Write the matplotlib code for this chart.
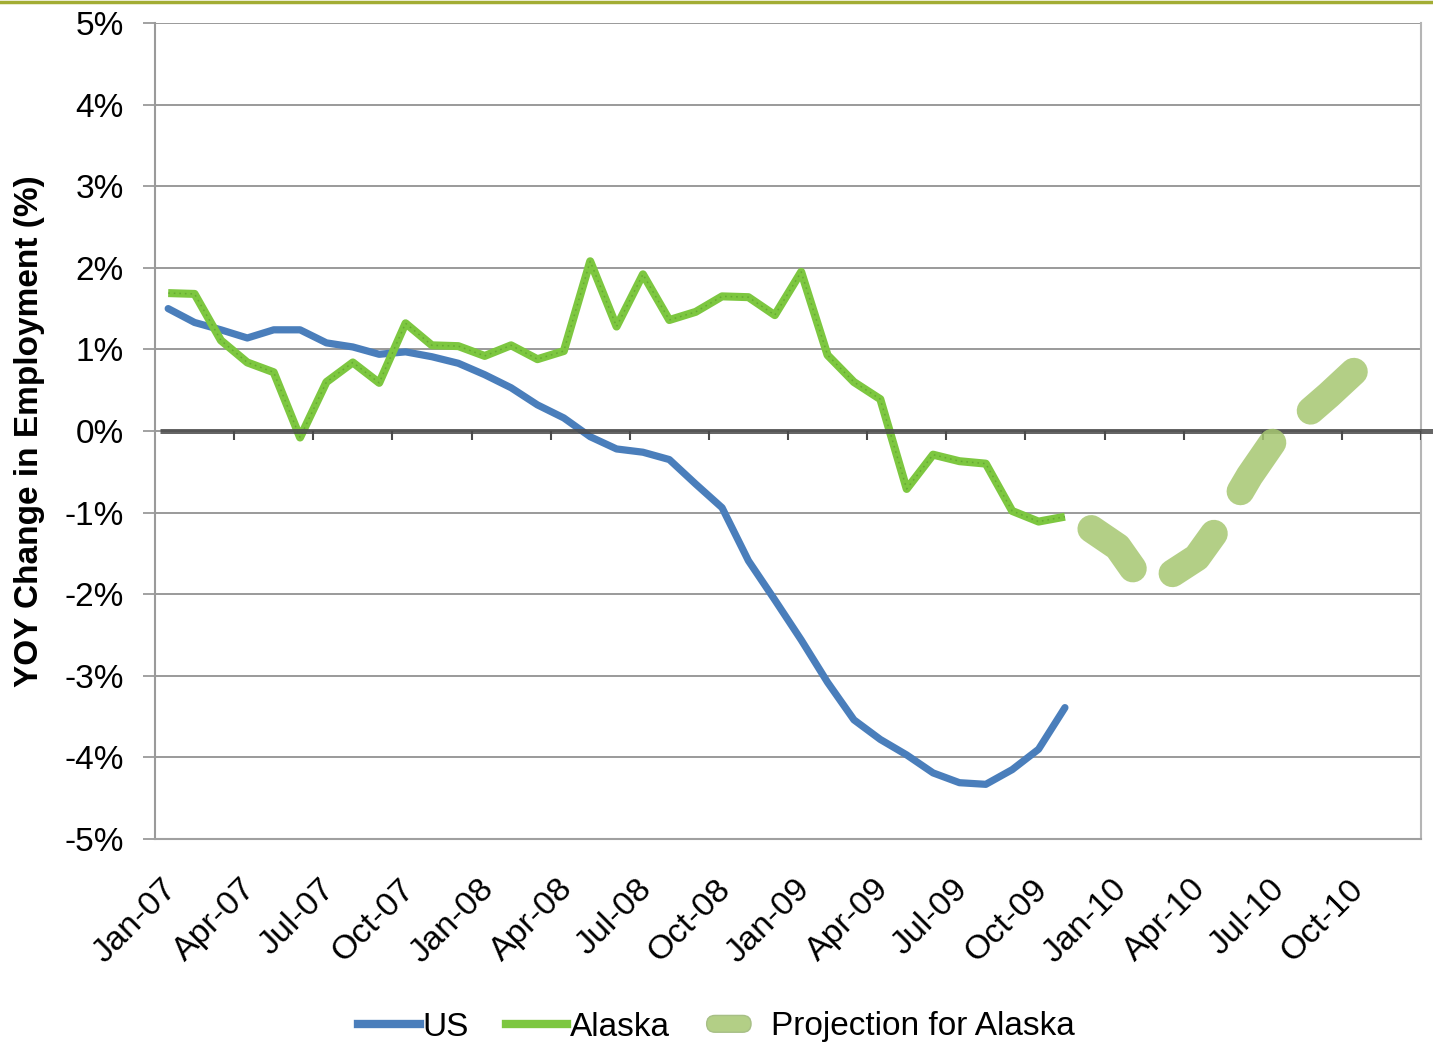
import matplotlib
matplotlib.use("Agg")
import matplotlib.pyplot as plt
from matplotlib.lines import Line2D
from matplotlib.patches import FancyBboxPatch
from matplotlib.legend_handler import HandlerBase
from matplotlib.transforms import ScaledTranslation
import numpy as np

plt.rcParams['font.family'] = ['Liberation Sans', 'DejaVu Sans']
plt.rcParams['lines.scale_dashes'] = False

# ---------------- data ----------------
month_names = ["Jan", "Feb", "Mar", "Apr", "May", "Jun",
               "Jul", "Aug", "Sep", "Oct", "Nov", "Dec"]
years = ["07", "08", "09", "10"]
months = [f"{m}-{y}" for y in years for m in month_names]   # Jan-07 .. Dec-10

us = [1.50, 1.33, 1.24, 1.14, 1.24, 1.24, 1.08, 1.03, 0.94, 0.97, 0.91, 0.83,
      0.69, 0.53, 0.32, 0.16, -0.07, -0.22, -0.26, -0.35, -0.65, -0.94, -1.59, -2.07,
      -2.56, -3.08, -3.54, -3.78, -3.97, -4.19, -4.31, -4.33, -4.15, -3.90, -3.39]

alaska = [1.69, 1.68, 1.11, 0.84, 0.72, -0.08, 0.60, 0.84, 0.59, 1.32, 1.05, 1.04,
          0.92, 1.05, 0.88, 0.98, 2.08, 1.28, 1.92, 1.36, 1.46, 1.65, 1.64, 1.42,
          1.95, 0.93, 0.60, 0.39, -0.71, -0.29, -0.37, -0.40, -0.98, -1.11, -1.05]

projection_start = 35   # Dec-09
projection = [-1.20, -1.42, -1.88, -1.76, -1.55, -1.10, -0.55, -0.08, 0.16, 0.44, 0.74]

yticks = [5, 4, 3, 2, 1, 0, -1, -2, -3, -4, -5]
label_every = 3

# ---------------- figure ----------------
W, H = 1433, 1043
fig = plt.figure(figsize=(W / 100, H / 100), dpi=100)
L, R, T, B = 155, 1421, 23, 839
ax = fig.add_axes([L / W, 1 - B / H, (R - L) / W, (B - T) / H])

x_all = np.arange(len(months))
x_us = x_all[:len(us)]
x_ak = x_all[:len(alaska)]
x_pr = x_all[projection_start:projection_start + len(projection)]

ax.set_xlim(-0.5, len(months) - 0.5)
ax.set_ylim(-5, 5)

# gridlines
for v in yticks:
    ax.axhline(v, color='#9a9a9a', lw=1.4, zorder=1)

col_us = '#4a7ebb'
col_ak = '#7dc740'
col_pr = '#a6c771'

ax.plot(x_us, us, color=col_us, lw=5.2, solid_joinstyle='round',
        solid_capstyle='round', zorder=3)
ax.plot(x_ak, alaska, color=col_ak, lw=5.8, solid_joinstyle='round',
        solid_capstyle='butt', zorder=3)
ax.plot(x_ak, alaska, color='#4f8f26', lw=1.1, ls=(0, (1.2, 2.8)),
        alpha=0.5, zorder=3.1)

# zero line (extends past the right edge) with category tick marks
ax.axhline(0, xmin=5 / (R - L), xmax=(W - L) / (R - L), color='#4a4a4a',
           lw=3.6, alpha=0.85, clip_on=False, zorder=4, solid_capstyle='butt')
bounds = np.arange(label_every - 0.5, len(months), label_every)
ax.vlines(bounds, -0.11, 0, color='#4a4a4a', lw=1.5, zorder=4)

# projection
ax.plot(x_pr, projection, color=col_pr, lw=20, alpha=0.85,
        ls=(0, (42, 36)), dash_capstyle='round', dash_joinstyle='round',
        zorder=5)

# axes styling
ax.spines['top'].set_visible(False)
ax.spines['left'].set_color('#9a9a9a')
ax.spines['left'].set_linewidth(1.5)
ax.spines['right'].set_color('#b5b5b5')
ax.spines['right'].set_linewidth(1.5)
ax.spines['bottom'].set_color('#a0a0a0')
ax.spines['bottom'].set_linewidth(1.5)

ax.set_yticks(yticks)
ax.set_yticklabels([f"{v}%" for v in yticks], fontsize=24)
ax.tick_params(axis='y', length=8.6, width=1.3, color='#9a9a9a', pad=14)

lab_idx = x_all[::label_every]
ax.set_xticks(lab_idx)
ax.set_xticklabels([months[i] for i in lab_idx], fontsize=24.5)
ax.tick_params(axis='x', length=0, pad=24)
shift = ScaledTranslation(-0.07, -0.01, fig.dpi_scale_trans)
for t in ax.get_xticklabels():
    t.set_rotation(45)
    t.set_ha('right')
    t.set_va('top')
    t.set_rotation_mode('anchor')
    t.set_transform(t.get_transform() + shift)

fig.text(30 / W, 1 - 431 / H, "YOY Change in Employment (%)", rotation=90,
         fontsize=24, fontweight='bold', ha='center', va='center')

# olive rule at top of the slide
fig.add_artist(Line2D([0, 1], [1 - 2 / H, 1 - 2 / H], color='#a3ad34', lw=2.5,
                      transform=fig.transFigure))

# legend
class RoundHandler(HandlerBase):
    def create_artists(self, legend, orig_handle, xdescent, ydescent,
                       width, height, fontsize, trans):
        h = height * 0.72
        w = width * 0.72
        p = FancyBboxPatch((-xdescent + width * 0.0, -ydescent + height / 2 - h / 2),
                           w, h, boxstyle=f"round,pad=0,rounding_size={h / 2}",
                           fc='#b3cf86', ec='#a7bf86', lw=1.0, transform=trans)
        return [p]

h_us = Line2D([], [], color=col_us, lw=6)
h_ak = Line2D([], [], color=col_ak, lw=6)
h_pr = object()
leg = fig.legend([h_us, h_ak, h_pr], ["US", "Alaska", "Projection for Alaska"],
                 handler_map={h_pr: RoundHandler()},
                 loc='center', bbox_to_anchor=(0.5, 1 - 1027 / H), ncol=3,
                 frameon=False, fontsize=24, handlelength=1.85,
                 handletextpad=0.08, columnspacing=1.1)

fig.savefig("out.png", dpi=100)
